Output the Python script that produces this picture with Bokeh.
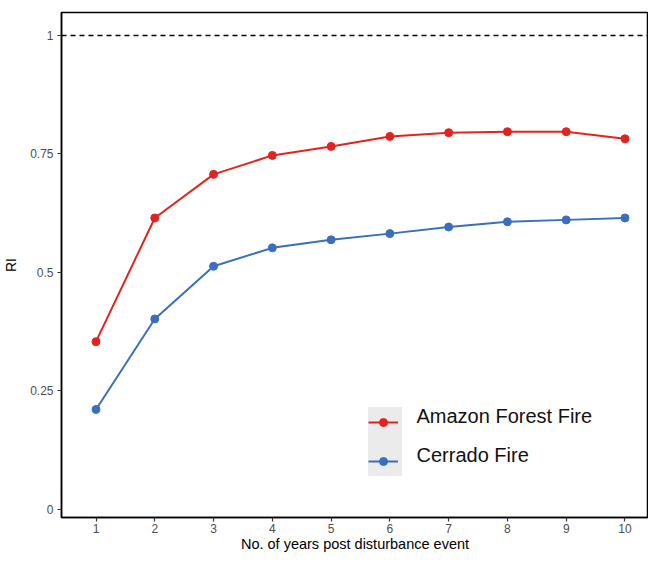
from bokeh.plotting import figure
from bokeh.models import Span, Legend, LegendItem, Label, FixedTicker, Range1d, ColumnDataSource
from bokeh.core.properties import value
from bokeh.embed import file_html
from bokeh.resources import INLINE

years = [1, 2, 3, 4, 5, 6, 7, 8, 9, 10]
amazon = [0.354, 0.615, 0.707, 0.747, 0.766, 0.787, 0.795, 0.797, 0.797, 0.782]
cerrado = [0.211, 0.402, 0.513, 0.552, 0.569, 0.582, 0.596, 0.607, 0.611, 0.615]
series_names = ["Amazon Forest Fire", "Cerrado Fire"]
series_colors = ["#e2231f", "#3a6fbd"]
y_ticks = [0, 0.25, 0.5, 0.75, 1]
y_tick_labels = ["0", "0.25", "0.5", "0.75", "1"]
ref_level = 1

FONT = "Liberation Sans"

p = figure(width=648, height=555, output_backend="svg", toolbar_location=None,
           x_range=Range1d(0.413, 10.40), y_range=Range1d(-0.0169, 1.0485),
           min_border_left=52, min_border_right=0, min_border_top=12, min_border_bottom=38)
p.xgrid.visible = False
p.ygrid.visible = False
p.outline_line_color = "black"
p.outline_line_width = 1.5

src = ColumnDataSource(dict(x=years, a=amazon, c=cerrado))
renderers = []
for col, color in zip(["a", "c"], series_colors):
    l = p.line("x", col, source=src, line_color=color, line_width=2)
    s = p.scatter("x", col, source=src, size=8, fill_color=color, line_color=color)
    renderers.append([l, s])

p.add_layout(Span(location=ref_level, dimension="width", line_color="black",
                  line_width=1.3, line_dash="5 4"))

for ax in (p.xaxis[0], p.yaxis[0]):
    ax.axis_line_color = "black"
    ax.axis_line_width = 1.5
    ax.major_tick_line_color = "#333333"
    ax.major_tick_line_width = 1.2
    ax.major_tick_in = 0
    ax.major_tick_out = 4
    ax.minor_tick_line_color = None
    ax.major_label_text_font = FONT
    ax.major_label_text_font_size = "12px"
    ax.major_label_text_color = "#4d4d4d"
    ax.axis_label_text_font = FONT
    ax.axis_label_text_font_style = "normal"
    ax.axis_label_text_color = "black"

p.xaxis.ticker = FixedTicker(ticks=years)
p.xaxis.major_label_standoff = 2
p.xaxis.axis_label = "No. of years post disturbance event"
p.xaxis.axis_label_text_font_size = "14.5px"
p.xaxis.axis_label_standoff = 0

p.yaxis.ticker = FixedTicker(ticks=y_ticks)
p.yaxis.major_label_overrides = {t: s for t, s in zip(y_ticks, y_tick_labels)}
p.yaxis.major_label_standoff = 4
p.yaxis.axis_label = "RI"
p.yaxis.axis_label_text_font_size = "14px"
p.yaxis.axis_label_standoff = 8

legend = Legend(items=[LegendItem(label=value(""), renderers=r) for r in renderers],
                location=(307, 41), background_fill_color="#ebebeb", background_fill_alpha=1,
                border_line_color=None, glyph_width=30, glyph_height=20, spacing=9,
                padding=8, margin=0, label_width=0, label_standoff=4, label_height=30)
p.add_layout(legend, "center")

for i, name in enumerate(series_names):
    p.add_layout(Label(x=355, y=102 - 39 * i, x_units="screen", y_units="screen",
                       text=name, text_font=FONT, text_font_size="20px",
                       text_color="#111111", text_baseline="middle"))

open("out.html", "w").write(file_html(p, INLINE))
